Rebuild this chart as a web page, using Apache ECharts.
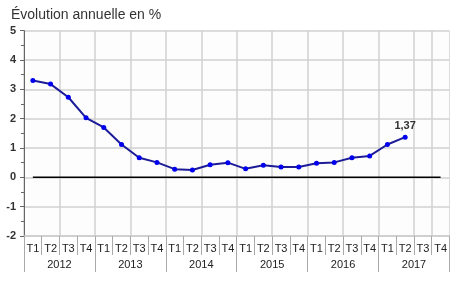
<!DOCTYPE html>
<html><head><meta charset="utf-8">
<script src="https://cdn.jsdelivr.net/npm/echarts@6/dist/echarts.min.js"></script>
<style>html,body{margin:0;padding:0;background:#fff}#c{width:450px;height:291px}</style>
</head><body><div id="c"></div>
<script>
var quarters = ['T1','T2','T3','T4','T1','T2','T3','T4','T1','T2','T3','T4','T1','T2','T3','T4','T1','T2','T3','T4','T1','T2','T3','T4'];
var years = ['2012','2013','2014','2015','2016','2017'];
var values = [3.30,3.18,2.73,2.03, 1.70,1.12,0.67,0.51, 0.28,0.25,0.43,0.50, 0.29,0.41,0.35,0.35, 0.48,0.51,0.67,0.73, 1.12,1.37,null,null];
var zeroLine = [0,0,0,0,0,0,0,0,0,0,0,0,0,0,0,0,0,0,0,0,0,0,0,0];
var yTicks = {min:-2, max:5, interval:1};
var lastLabel = '1,37';

var chart = echarts.init(document.getElementById('c'), null, {renderer:'canvas'});
var font = 'Liberation Sans, Arial, sans-serif';
chart.setOption({
  animation:false,
  backgroundColor:'#ffffff',
  title:{text:'Évolution annuelle en %', left:6, top:3, textStyle:{fontFamily:font, fontSize:14, fontWeight:'normal', color:'#333'}},
  grid:{left:24, right:0, top:30.7, bottom:55, containLabel:false, backgroundColor:'#fdfdfd', show:true, borderWidth:0},
  xAxis:[{
    type:'category', data:quarters, boundaryGap:true, position:'bottom',
    axisLine:{show:true, onZero:false, lineStyle:{color:'#cccccc', width:1.5}},
    axisTick:{show:true, interval:0, length:19, lineStyle:{color:'#aaaaaa', width:1}},
    axisLabel:{interval:0, margin:7, fontFamily:font, fontSize:11, color:'#222'},
    splitLine:{show:true, interval:1, lineStyle:{color:'#d0d0d0', width:1.5}}
  },{
    type:'category', data:years, boundaryGap:true, position:'bottom', offset:19,
    axisLine:{show:true, onZero:false, lineStyle:{color:'rgba(0,0,0,0)'}},
    axisTick:{show:true, interval:0, length:17, lineStyle:{color:'#aaaaaa', width:1}},
    axisLabel:{interval:0, margin:4, fontFamily:font, fontSize:11, color:'#222'},
    splitLine:{show:false}
  }],
  yAxis:{
    type:'value', min:yTicks.min, max:yTicks.max, interval:yTicks.interval,
    axisLine:{show:true, lineStyle:{color:'#666', width:1}},
    axisTick:{show:true, length:4, lineStyle:{color:'#666'}},
    minorTick:{show:true, splitNumber:2, length:3, lineStyle:{color:'#666'}},
    axisLabel:{margin:8, fontFamily:font, fontSize:11, fontWeight:'bold', color:'#333'},
    splitLine:{show:true, lineStyle:{color:'#d0d0d0', width:1.5}}
  },
  series:[{
    type:'line', data:zeroLine, xAxisIndex:0, symbol:'none', silent:true,
    lineStyle:{color:'#000', width:1.5}, z:1
  },{
    type:'line', data:values, xAxisIndex:0, symbol:'circle', symbolSize:5,
    lineStyle:{color:'#1c1c99', width:2}, itemStyle:{color:'#0000ee'}, z:3,
    label:{show:true, position:'top', distance:3, fontFamily:font, fontSize:11, fontWeight:'bold', color:'#333',
      formatter:function(p){return p.dataIndex===21 ? lastLabel : '';}}
  }]
});
</script></body></html>
